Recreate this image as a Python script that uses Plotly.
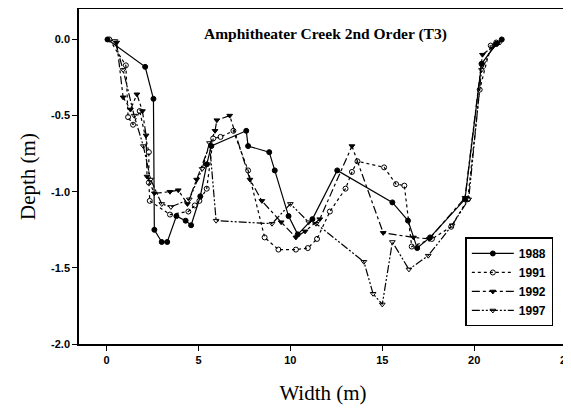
import plotly.graph_objects as go

x1988 = [0.05, 2.1, 2.55, 2.6, 3.0, 3.3, 3.8, 4.3, 4.6, 5.1, 5.45, 5.7, 7.6, 7.7, 8.85, 9.15, 9.9, 10.4, 11.2, 12.55, 15.55, 16.4, 16.9, 17.6, 19.5, 20.4, 21.2, 21.5]
y1988 = [0.0, -0.18, -0.39, -1.25, -1.33, -1.33, -1.16, -1.19, -1.22, -1.03, -0.82, -0.70, -0.60, -0.70, -0.74, -0.86, -1.16, -1.28, -1.18, -0.86, -1.07, -1.19, -1.37, -1.30, -1.05, -0.16, -0.03, 0.0]

x1991 = [0.15, 1.05, 1.17, 1.44, 1.8, 2.3, 2.3, 2.35, 3.45, 4.45, 4.8, 5.05, 5.45, 5.8, 6.2, 6.9, 7.7, 8.6, 9.35, 10.3, 10.95, 11.45, 12.15, 13.0, 13.35, 13.65, 15.1, 15.75, 16.2, 16.6, 17.7, 18.75, 19.65, 20.3, 20.9, 21.2]
y1991 = [0.0, -0.17, -0.51, -0.56, -0.47, -0.74, -0.94, -1.06, -1.15, -1.13, -1.09, -1.06, -0.98, -0.65, -0.64, -0.60, -0.86, -1.30, -1.38, -1.38, -1.37, -1.31, -1.13, -0.98, -0.87, -0.80, -0.84, -0.95, -0.96, -1.36, -1.31, -1.23, -1.05, -0.33, -0.04, -0.02]

x1992 = [0.55, 0.9, 1.3, 1.65, 1.95, 2.15, 2.2, 2.6, 3.45, 3.9, 4.4, 4.9, 5.9, 6.0, 6.7, 7.8, 8.45, 9.5, 10.3, 10.8, 11.6, 13.35, 15.05, 16.7, 17.55, 19.5, 20.45, 21.3]
y1992 = [-0.02, -0.38, -0.46, -0.36, -0.47, -0.63, -0.90, -1.01, -1.00, -0.99, -1.08, -0.92, -0.60, -0.53, -0.50, -0.92, -1.06, -1.20, -1.30, -1.26, -1.18, -0.70, -1.27, -1.30, -1.31, -1.04, -0.10, -0.02]

x1997 = [0.45, 0.9, 1.5, 2.0, 2.4, 3.0, 3.5, 4.5, 5.2, 5.6, 5.96, 9.0, 10.0, 11.0, 11.4, 14.0, 14.5, 15.0, 15.55, 16.45, 17.5, 18.8, 19.7, 20.4, 21.0, 21.4]
y1997 = [-0.01, -0.2, -0.5, -0.7, -0.92, -1.08, -1.1, -1.05, -0.85, -0.68, -1.19, -1.21, -1.08, -1.2, -1.21, -1.46, -1.67, -1.74, -1.33, -1.51, -1.42, -1.22, -1.05, -0.2, -0.05, -0.02]

series = [
    ("1988", x1988, y1988, "solid", "circle"),
    ("1991", x1991, y1991, "dot", "circle-open"),
    ("1992", x1992, y1992, "8px,3px,3px,3px", "triangle-down"),
    ("1997", x1997, y1997, "8px,2px,2px,2px,2px,2px", "triangle-down-open"),
]

fig = go.Figure()
for name, xs, ys, dash, sym in series:
    fig.add_trace(go.Scatter(
        x=xs, y=ys, name=name, mode="lines+markers",
        line=dict(color="black", width=1.2, dash=dash),
        marker=dict(symbol=sym, size=5, color="black", line=dict(color="black", width=1)),
    ))

fig.add_annotation(
    x=11.9, y=0.035, xref="x", yref="y", showarrow=False,
    text="<b>Amphitheater Creek 2nd Order (T3)</b>",
    font=dict(family="Liberation Serif", size=15.5, color="black"),
)

fig.update_layout(
    width=563, height=407,
    margin=dict(l=71, r=4, t=1, b=71, autoexpand=False),
    paper_bgcolor="white", plot_bgcolor="white",
    font=dict(family="Liberation Sans", color="black"),
    showlegend=True,
    legend=dict(
        x=0.972, y=0.318, xanchor="right", yanchor="top",
        bordercolor="black", borderwidth=1.5, bgcolor="white",
        font=dict(family="Liberation Sans", size=12, color="black", weight="bold"),
        tracegroupgap=0, itemwidth=42,
    ),
    xaxis=dict(
        range=[-1.5, 25.05], tickvals=[0, 5, 10, 15, 20, 25],
        ticks="outside", ticklen=5, tickwidth=1.2, tickcolor="black",
        showline=True, linecolor="black", linewidth=1.5, mirror=True,
        showgrid=False, zeroline=False, automargin=False,
        ticklabeloverflow="allow",
        tickfont=dict(family="Liberation Sans", size=11, weight="bold"),
        title=dict(text="Width (m)", font=dict(family="Liberation Serif", size=21), standoff=20),
    ),
    yaxis=dict(
        range=[-2.0, 0.2], tickvals=[0, -0.5, -1.0, -1.5, -2.0],
        ticktext=["0.0", "-0.5", "-1.0", "-1.5", "-2.0"],
        ticks="outside", ticklen=5, tickwidth=1.2, tickcolor="black",
        showline=True, linecolor="black", linewidth=1.5, mirror=True,
        showgrid=False, zeroline=False, automargin=False,
        tickfont=dict(family="Liberation Sans", size=11, weight="bold"),
        title=dict(text="Depth (m)", font=dict(family="Liberation Serif", size=21), standoff=10),
    ),
)

fig.write_html("out.html")
